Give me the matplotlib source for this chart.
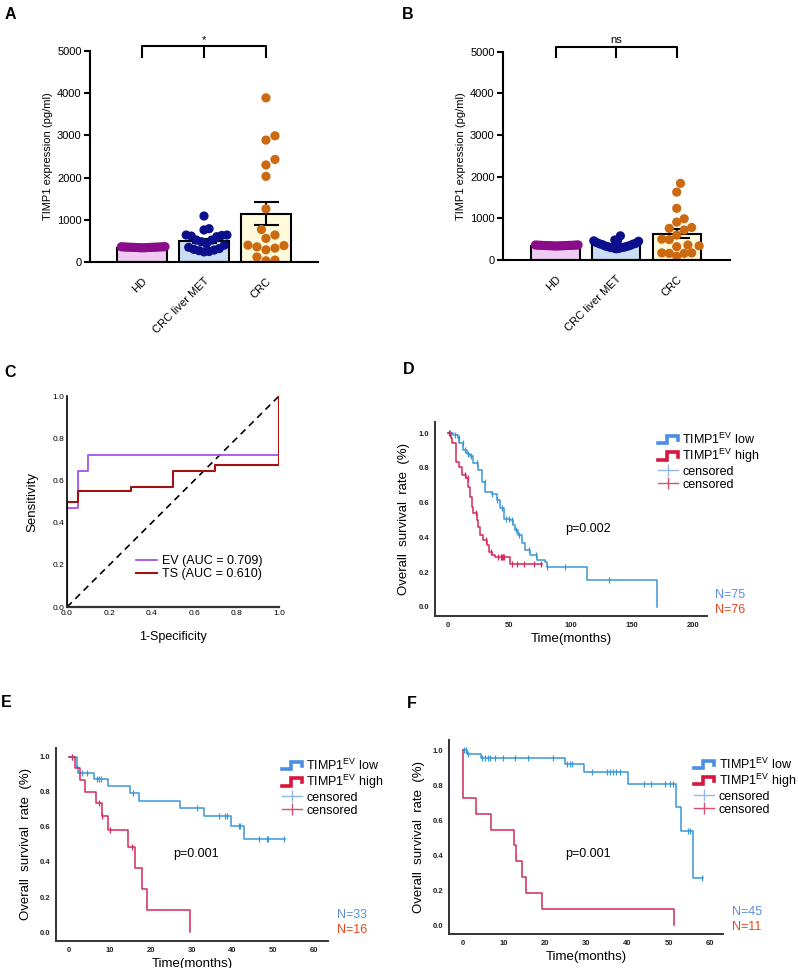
import numpy as np
import matplotlib
matplotlib.use("Agg")
import matplotlib.pyplot as plt
from matplotlib.lines import Line2D
from matplotlib.legend_handler import HandlerBase

plt.rcParams['font.family'] = ['Liberation Sans', 'DejaVu Sans']
plt.rcParams['mathtext.fontset'] = 'custom'
plt.rcParams['mathtext.rm'] = 'Liberation Sans'

# ---------------- data ----------------
groups = ['HD', 'CRC liver MET', 'CRC']

# panel A
a_means = [330, 500, 1150]
a_sem = [10, 45, 280]
a_hd = [352, 345, 360, 338, 355, 348, 342, 365, 350, 336, 358, 346, 352, 340, 362, 348, 355, 344, 350, 358]
a_met = [1090, 790, 760, 640, 640, 630, 615, 600, 520, 520, 480, 440, 400, 350, 320, 300, 285, 270, 250, 240]
a_crc = [3890, 2990, 2890, 2430, 2300, 2030, 1260, 770, 640, 560, 400, 390, 360, 330, 290, 120, 45, 30]

# panel B
b_means = [330, 370, 630]
b_sem = [8, 20, 110]
b_hd = [345, 350, 338, 355, 342, 360, 348, 336, 352, 344, 358, 340, 350, 346, 362, 338, 354, 348, 342, 356]
b_met = [580, 480, 470, 460, 450, 420, 400, 390, 380, 370, 350, 340, 330, 320, 310, 300, 300, 290, 280, 270]
b_crc = [1840, 1630, 1240, 990, 910, 780, 760, 720, 600, 500, 490, 360, 340, 320, 170, 170, 160, 160, 90]

# panel C (ROC)
ev_fpr = [0, 0, 0.05, 0.05, 0.10, 0.10, 1.0, 1.0]
ev_tpr = [0, 0.47, 0.47, 0.645, 0.645, 0.72, 0.72, 1.0]
ts_fpr = [0, 0, 0.05, 0.05, 0.30, 0.30, 0.50, 0.50, 0.70, 0.70, 1.0, 1.0]
ts_tpr = [0, 0.50, 0.50, 0.55, 0.55, 0.57, 0.57, 0.645, 0.645, 0.675, 0.675, 1.0]

# panel D (KM, all)
d_low_t = [0, 3.8, 8.4, 9.3, 12.5, 15.2, 18, 20.7, 24.8, 27.5, 30.2, 35.6, 39.7, 42.4, 45.7, 50.6,
           53.3, 54.7, 57.4, 60.1, 62.9, 66.9, 72.4, 79.2, 80.5, 113.2, 170]
d_low_s = [1.0, 0.99, 0.97, 0.94, 0.90, 0.88, 0.87, 0.83, 0.79, 0.72, 0.66, 0.65, 0.615, 0.567, 0.506, 0.50,
           0.47, 0.443, 0.414, 0.366, 0.328, 0.299, 0.27, 0.261, 0.232, 0.156, 0.0]
d_low_c = [2, 6, 9, 12, 14, 16, 19, 24, 30, 36, 40, 44, 47, 50, 52, 55, 58, 66, 72, 81, 95, 131]
d_high_t = [0, 2.2, 3.5, 6.5, 9.3, 11.2, 14.7, 16.6, 18, 19.3, 20.7, 23.4, 24.8, 26.1, 28.8, 31.6,
            33.7, 35.7, 38.4, 50.6, 76.5]
d_high_s = [1.0, 0.97, 0.94, 0.835, 0.806, 0.758, 0.74, 0.69, 0.634, 0.577, 0.538, 0.50, 0.462, 0.414, 0.385, 0.356,
            0.318, 0.299, 0.289, 0.245, 0.245]
d_high_c = [1, 14, 16, 23, 31, 35, 41, 43, 44, 45, 46, 52, 56, 62, 70, 76]

# panel E
e_low_t = [0, 1.9, 2.3, 6.0, 9.6, 14.9, 17.2, 27.2, 33.1, 39.6, 42.7, 52.9]
e_low_s = [1.0, 0.94, 0.91, 0.875, 0.836, 0.794, 0.75, 0.708, 0.665, 0.608, 0.532, 0.532]
e_low_c = [0.65, 3.1, 4.3, 6.9, 7.3, 7.8, 15.7, 31.4, 36.6, 38.2, 38.6, 41.5, 41.9, 46.4, 48.4, 48.8, 52.5]
e_high_t = [0, 1.5, 2.7, 3.9, 6.6, 8.0, 9.6, 14.5, 16.2, 17.8, 19.0, 29.5]
e_high_s = [1.0, 0.935, 0.869, 0.802, 0.735, 0.663, 0.583, 0.488, 0.364, 0.244, 0.126, 0.0]
e_high_c = [0.8, 7.4, 8.1, 9.9, 15.3]

# panel F
f_low_t = [0, 0.9, 4.4, 24.8, 29.5, 40.0, 51.7, 53.0, 55.9, 58.4]
f_low_s = [1.0, 0.977, 0.952, 0.918, 0.876, 0.804, 0.672, 0.537, 0.267, 0.267]
f_low_c = [0.3, 0.65, 1.3, 4.5, 5.3, 6.1, 6.6, 7.8, 9.8, 12.6, 15.7, 21.9, 25.2, 26.0, 26.4, 31.3, 34.9,
           35.7, 36.5, 37.3, 38.1, 44.0, 45.7, 49.1, 50.3, 51.1, 54.7, 55.1, 58.2]
f_high_t = [0, 0.1, 3.1, 6.7, 12.4, 12.9, 14.4, 15.3, 19.1, 51.3]
f_high_s = [1.0, 0.727, 0.636, 0.545, 0.455, 0.364, 0.273, 0.182, 0.091, 0.0]
f_high_c = []

# ---------------- styles ----------------
fills = ['#EFCBF1', '#C9DDF5', '#FFFADC']
dotcol = ['#8A0C8A', '#0B0F8C', '#CC6A12']
blue, red = '#3A97D6', '#D42A5A'
blue_leg, red_leg = '#4A8FE3', '#D8163E'


def swarm_x(ax, vals, xc, diam, half):
    tr = ax.transData
    py = tr.transform(np.column_stack([np.zeros(len(vals)), vals]))[:, 1]
    ppx = tr.transform([[1, 0]])[0, 0] - tr.transform([[0, 0]])[0, 0]
    offs = np.zeros(len(vals))
    done = []
    for i in np.argsort(py):
        for k in range(400):
            cand = ((k + 1) // 2) * (1 if k % 2 else -1) * diam * 0.5
            if all((cand - ox) ** 2 + (py[i] - oy) ** 2 >= diam ** 2 for ox, oy in done):
                break
        offs[i] = cand
        done.append((cand, py[i]))
    m = np.abs(offs).max()
    if m > half * ppx:
        offs = offs * half * ppx / m
    return xc + offs / ppx


def bar_panel(ax, means, sem, dots, xlim, sig):
    ax.set_xlim(*xlim)
    ax.set_ylim(0, 5000)
    x = np.arange(3)
    ax.bar(x, means, width=0.8, color=fills, edgecolor='black', linewidth=1.5, zorder=1)
    ax.errorbar(x, means, yerr=sem, fmt='none', ecolor='black', elinewidth=1.5,
                capsize=9, capthick=1.5, zorder=1.5)
    for i, vals in enumerate(dots):
        xs = swarm_x(ax, vals, i, 9.0, 0.37)
        ax.scatter(xs, vals, s=44, color=dotcol[i], edgecolors='none', zorder=2)
    for s in ['top', 'right']:
        ax.spines[s].set_visible(False)
    for s in ['left', 'bottom']:
        ax.spines[s].set_linewidth(1.5)
    ax.set_yticks([0, 1000, 2000, 3000, 4000, 5000])
    ax.tick_params(axis='y', width=1.5, length=4, labelsize=8, pad=2)
    ax.tick_params(axis='x', length=0, labelsize=8, pad=10)
    ax.set_xticks(x)
    ax.set_xticklabels(groups, rotation=45, ha='right', rotation_mode='anchor')
    ax.set_ylabel('TIMP1 expression (pg/ml)', fontsize=8, labelpad=3)
    ax.plot([0, 0, 2, 2], [4870, 5110, 5110, 4870], color='black', lw=1.5, clip_on=False)
    ax.plot([1, 1], [5110, 4870], color='black', lw=1.5, clip_on=False)
    ax.text(1, 5150, sig, ha='center', va='bottom', fontsize=8)


class StepHandler(HandlerBase):
    def create_artists(self, legend, orig, xd, yd, w, h, fontsize, trans):
        xs = np.array([0.0, 0.45, 0.45, 1.0, 1.0]) * w - xd
        ys = np.array([0.15, 0.15, 0.85, 0.85, 0.45]) * h - yd
        ln = Line2D(xs, ys, color=orig.get_color(), lw=orig.get_linewidth(),
                    solid_joinstyle='miter', transform=trans)
        return [ln]


def km_panel(ax, lo_t, lo_s, lo_c, hi_t, hi_s, hi_c, xlim, xticks, ylim, ptxt, pxy, nlo, nhi, nxy, legxy):
    for t, s, c, col in [(lo_t, lo_s, lo_c, blue), (hi_t, hi_s, hi_c, red)]:
        t = np.array(t); s = np.array(s)
        ax.step(t, s, where='post', color=col, lw=1.1)
        if len(c):
            c = np.array(c)
            sc = s[np.searchsorted(t, c, side='right') - 1]
            ax.plot(c, sc, ls='none', marker='|', ms=4, mew=0.9, color=col)
    ax.set_xlim(*xlim)
    ax.set_ylim(*ylim)
    ax.set_xticks(xticks)
    ax.set_yticks([0, 0.2, 0.4, 0.6, 0.8, 1.0])
    ax.set_yticklabels(['0.0', '0.2', '0.4', '0.6', '0.8', '1.0'])
    ax.tick_params(length=0, labelsize=5.5, pad=4)
    for lab in ax.get_xticklabels() + ax.get_yticklabels():
        lab.set_fontweight('bold')
        lab.set_color('#222222')
    for s in ['top', 'right']:
        ax.spines[s].set_visible(False)
    for s in ['left', 'bottom']:
        ax.spines[s].set_linewidth(1.4)
        ax.spines[s].set_color('#333333')
    ax.set_xlabel('Time(months)', fontsize=9.5, labelpad=3)
    ax.set_ylabel('Overall  survival  rate  (%)', fontsize=9.5, labelpad=6)
    ax.text(pxy[0], pxy[1], ptxt, fontsize=9, va='center', ha='left')
    ax.text(nxy[0], nxy[1], nlo, color='#5B8FD9', fontsize=9, transform=ax.transAxes, va='center')
    ax.text(nxy[0], nxy[1] - 0.078, nhi, color='#E8461E', fontsize=9, transform=ax.transAxes, va='center')
    hs = [Line2D([], [], color=blue_leg, lw=2.6), Line2D([], [], color=red_leg, lw=2.6),
          Line2D([], [], color='#8DB8E8', lw=1.0, marker='|', ms=9, mew=1.0),
          Line2D([], [], color='#D85070', lw=1.0, marker='|', ms=9, mew=1.0)]
    labels = ['TIMP1$^{\\mathrm{EV}}$ low', 'TIMP1$^{\\mathrm{EV}}$ high', 'censored', 'censored']
    ax.legend(hs, labels, loc='upper left', bbox_to_anchor=legxy, frameon=False, fontsize=9,
              handlelength=1.6, handleheight=0.9, handletextpad=0.35, labelspacing=0.02, borderpad=0,
              borderaxespad=0, handler_map={hs[0]: StepHandler(), hs[1]: StepHandler()})


fig = plt.figure(figsize=(7.98, 9.68), dpi=100)

axA = fig.add_axes([0.1128, 0.7293, 0.2857, 0.218])
bar_panel(axA, a_means, a_sem, [a_hd, a_met, a_crc], (-0.84, 2.84), '*')
axB = fig.add_axes([0.6303, 0.7314, 0.2845, 0.2152])
bar_panel(axB, b_means, b_sem, [b_hd, b_met, b_crc], (-0.87, 2.88), 'ns')

# ROC
axC = fig.add_axes([0.084, 0.3729, 0.2657, 0.218])
axC.plot([0, 1], [0, 1], color='black', lw=1.2, ls=(0, (4, 3)))
axC.plot(ev_fpr, ev_tpr, color='#A455E6', lw=1.3, label='EV (AUC = 0.709)')
axC.plot(ts_fpr, ts_tpr, color='#9E1414', lw=1.5, label='TS (AUC = 0.610)')
axC.set_xlim(0, 1)
axC.set_ylim(0, 1)
axC.set_xticks([0, 0.2, 0.4, 0.6, 0.8, 1.0])
axC.set_yticks([0, 0.2, 0.4, 0.6, 0.8, 1.0])
axC.set_xticklabels(['0.0', '0.2', '0.4', '0.6', '0.8', '1.0'])
axC.set_yticklabels(['0.0', '0.2', '0.4', '0.6', '0.8', '1.0'])
axC.tick_params(length=0, labelsize=6, pad=2)
for s in ['top', 'right']:
    axC.spines[s].set_visible(False)
axC.spines['left'].set_linewidth(1.2)
axC.spines['bottom'].set_linewidth(1.6)
axC.spines['bottom'].set_color('#333333')
axC.set_ylabel('Sensitivity', fontsize=9.5, labelpad=10)
axC.set_xlabel('1-Specificity', fontsize=9, labelpad=10)
axC.legend(loc='lower right', frameon=False, fontsize=9, handlelength=1.7, handletextpad=0.4,
           labelspacing=0.1, borderaxespad=0.9, bbox_to_anchor=(1.0, 0.05))

axD = fig.add_axes([0.5451, 0.3636, 0.3409, 0.2004])
km_panel(axD, d_low_t, d_low_s, d_low_c, d_high_t, d_high_s, d_high_c, (-10.6, 211),
         [0, 50, 100, 150, 200], (-0.052, 1.063), 'p=0.002', (95.5, 0.448),
         'N=75', 'N=76', (1.03, 0.108), (0.82, 0.95))

axE = fig.add_axes([0.0702, 0.0279, 0.3409, 0.1994])
km_panel(axE, e_low_t, e_low_s, e_low_c, e_high_t, e_high_s, e_high_c, (-3.2, 63.4),
         [0, 10, 20, 30, 40, 50, 60], (-0.051, 1.051), 'p=0.001', (25.5, 0.446),
         'N=33', 'N=16', (1.033, 0.135), (0.83, 0.95))

axF = fig.add_axes([0.5627, 0.0351, 0.3434, 0.2004])
km_panel(axF, f_low_t, f_low_s, f_low_c, f_high_t, f_high_s, f_high_c, (-3.4, 63.2),
         [0, 10, 20, 30, 40, 50, 60], (-0.051, 1.057), 'p=0.001', (24.9, 0.406),
         'N=45', 'N=11', (1.033, 0.113), (0.895, 0.915))

for lab, x, y in [('A', 0.006, 0.993), ('B', 0.504, 0.993), ('C', 0.006, 0.623),
                  ('D', 0.505, 0.626), ('E', 0.001, 0.282), ('F', 0.51, 0.281)]:
    fig.text(x, y, lab, fontsize=11.5, fontweight='bold', va='top', ha='left')

fig.savefig('out.png', dpi=100)
